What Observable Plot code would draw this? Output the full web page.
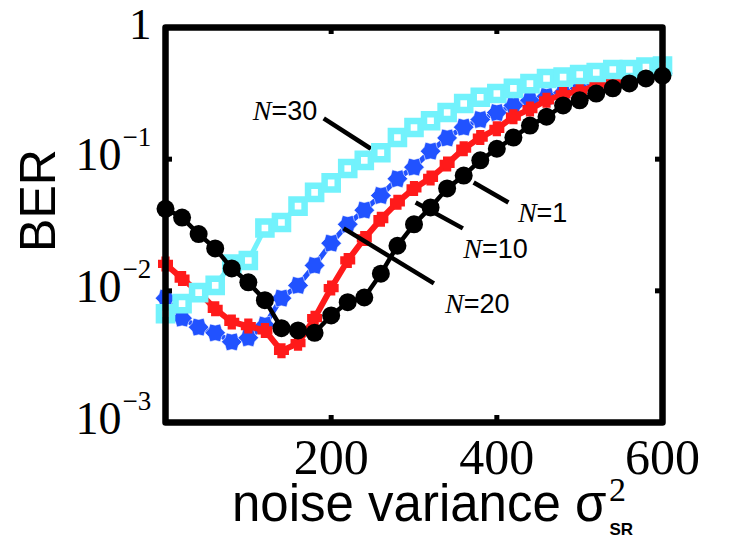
<!DOCTYPE html>
<html><head><meta charset="utf-8">
<script src="https://cdn.jsdelivr.net/npm/d3@7"></script>
<script src="https://cdn.jsdelivr.net/npm/@observablehq/plot@0.6"></script>
<style>html,body{margin:0;padding:0;background:#fff;} svg{display:block;}</style>
</head><body><div id="chart"></div>
<script>
// noise variance sigma^2_SR
const noiseVariance = [0,20,40,60,80,100,120,140,160,180,200,220,240,260,280,300,320,340,360,380,400,420,440,460,480,500,520,540,560,580,600];
// BER for each N
const berN1  = [0.042,0.036,0.027,0.021,0.0148,0.0116,0.0085,0.0052,0.0050,0.0048,0.0065,0.0082,0.0089,0.0135,0.022,0.032,0.043,0.060,0.075,0.098,0.12,0.146,0.18,0.21,0.256,0.28,0.315,0.345,0.376,0.41,0.43];
const berN10 = [0.016,0.0124,0.0098,0.0073,0.0058,0.0054,0.0050,0.0035,0.0040,0.0062,0.0105,0.017,0.025,0.035,0.047,0.060,0.072,0.092,0.12,0.146,0.17,0.21,0.24,0.28,0.31,0.33,0.36,0.385,0.40,0.42,0.44];
const berN20 = [0.0088,0.0062,0.0053,0.0048,0.0041,0.0044,0.0055,0.0088,0.011,0.0156,0.023,0.032,0.041,0.053,0.071,0.087,0.115,0.145,0.175,0.20,0.226,0.256,0.28,0.30,0.32,0.345,0.37,0.39,0.41,0.43,0.45];
const berN30 = [0.0067,0.0080,0.0097,0.011,0.016,0.017,0.030,0.033,0.044,0.056,0.066,0.085,0.098,0.112,0.146,0.174,0.196,0.226,0.265,0.295,0.315,0.345,0.375,0.41,0.42,0.44,0.455,0.48,0.48,0.50,0.51];

const xTicks = [200, 400, 600];
const yTicks = [1e-3, 1e-2, 1e-1, 1];
const yTickExp = ["−3", "−2", "−1", ""];

// annotation labels: anchor (start of "="), baseline BER, and leader line ends
const annLabels = ["30", "1", "10", "20"];
const annTextX = [128, 448, 382, 360];
const annTextY = [0.197, 0.0336, 0.0179, 0.00673];
const annLineX1 = [191, 372, 302, 215];
const annLineY1 = [0.204, 0.0665, 0.0469, 0.0298];
const annLineX2 = [248, 414, 359, 324];
const annLineY2 = [0.12, 0.0469, 0.0298, 0.01138];

const colors = {c1: "#000000", c10: "#ff1a1a", c20: "#2152ff", c30: "#72f2fc"};

const mk = (arr) => noiseVariance.map((x, i) => ({x, y: arr[i]}));
const d1 = mk(berN1), d10 = mk(berN10), d20 = mk(berN20), d30 = mk(berN30);
const ann = annLabels.map((t, i) => ({t, x: annTextX[i], y: annTextY[i], x1: annLineX1[i], y1: annLineY1[i], x2: annLineX2[i], y2: annLineY2[i]}));
const yt = yTicks.map((v, i) => ({v, e: yTickExp[i]}));

const hexagram = {draw(ctx, size) {
  const R = Math.sqrt(size / Math.PI) * 1.05, r = R * 0.74;
  for (let i = 0; i < 12; i++) {
    const a = i * Math.PI / 6;
    const rad = i % 2 ? r : R;
    const px = rad * Math.cos(a), py = rad * Math.sin(a);
    if (i) ctx.lineTo(px, py); else ctx.moveTo(px, py);
  }
  ctx.closePath();
}};
const fatPlus = {draw(ctx, size) {
  const R = Math.sqrt(size / Math.PI), w = R * 0.55;
  ctx.moveTo(-w, -R); ctx.lineTo(w, -R); ctx.lineTo(w, -w); ctx.lineTo(R, -w);
  ctx.lineTo(R, w); ctx.lineTo(w, w); ctx.lineTo(w, R); ctx.lineTo(-w, R);
  ctx.lineTo(-w, w); ctx.lineTo(-R, w); ctx.lineTo(-R, -w); ctx.lineTo(-w, -w);
  ctx.closePath();
}};

const W = 731, H = 539, mL = 165, mR = 69, mT = 27, mB = 117;
const innerH = H - mT - mB, innerW = W - mL - mR;
const serif = "Liberation Serif, Times New Roman, serif";
const sans = "Liberation Sans, Arial, Helvetica, sans-serif";

const chart = Plot.plot({
  width: W, height: H,
  marginLeft: mL, marginRight: mR, marginTop: mT, marginBottom: mB,
  style: {background: "white", fontFamily: sans},
  x: {domain: [0, 600], axis: null},
  y: {type: "log", domain: [1e-3, 1], axis: null},
  marks: [
    // leader lines under the curves
    Plot.link(ann.filter(d => d.t !== "20"), {x1: "x1", y1: "y1", x2: "x2", y2: "y2", stroke: "black", strokeWidth: 4.5}),
    Plot.line(d20, {x: "x", y: "y", stroke: colors.c20, strokeWidth: 5}),
    Plot.dot(d20, {x: "x", y: "y", symbol: hexagram, r: 9.8, fill: colors.c20, stroke: "white", strokeWidth: 0.6}),
    Plot.line(d10, {x: "x", y: "y", stroke: colors.c10, strokeWidth: 6}),
    Plot.dot(d10, {x: "x", y: "y", symbol: fatPlus, r: 7.5, fill: colors.c10}),
    Plot.line(d30, {x: "x", y: "y", stroke: colors.c30, strokeWidth: 5}),
    Plot.dot(d30, {x: "x", y: "y", symbol: "square", r: 7.4, stroke: colors.c30, strokeWidth: 6.5, fill: "white"}),
    Plot.line(d1, {x: "x", y: "y", stroke: colors.c1, strokeWidth: 4.5}),
    Plot.dot(d1, {x: "x", y: "y", r: 9, fill: colors.c1}),
    Plot.link(ann.filter(d => d.t === "20"), {x1: "x1", y1: "y1", x2: "x2", y2: "y2", stroke: "black", strokeWidth: 4.5}),
    // annotation texts
    Plot.text(ann, {x: "x", y: "y", text: () => "N", textAnchor: "end", lineAnchor: "bottom", fontFamily: serif, fontStyle: "italic", fontSize: 28, fill: "black"}),
    Plot.text(ann, {x: "x", y: "y", text: d => "=" + d.t, textAnchor: "start", lineAnchor: "bottom", fontFamily: sans, fontSize: 27, fill: "black"}),
    // frame and inward ticks
    Plot.frame({stroke: "black", strokeWidth: 6.5, strokeLinejoin: "round"}),
    Plot.tickX(xTicks.slice(0, 2), {x: d => d, insetTop: innerH - 7, stroke: "black", strokeWidth: 5}),
    Plot.tickX(xTicks.slice(0, 2), {x: d => d, insetBottom: innerH - 7, stroke: "black", strokeWidth: 5}),
    Plot.tickY(yTicks.slice(1, 3), {y: d => d, insetRight: innerW - 7, stroke: "black", strokeWidth: 5}),
    Plot.tickY(yTicks.slice(1, 3), {y: d => d, insetLeft: innerW - 7, stroke: "black", strokeWidth: 5}),
    // x tick labels
    Plot.text(xTicks, {x: d => d, frameAnchor: "bottom", dy: 51, lineAnchor: "bottom", text: d => String(d), fontFamily: serif, fontSize: 50, fill: "black"}),
    // y tick labels
    Plot.text(yt.filter(d => d.e === ""), {y: "v", frameAnchor: "left", dx: -14, dy: 11, textAnchor: "end", lineAnchor: "bottom", text: () => "1", fontFamily: serif, fontSize: 45, fill: "black"}),
    Plot.text(yt.filter(d => d.e !== ""), {y: "v", frameAnchor: "left", dx: -44, dy: 11, textAnchor: "end", lineAnchor: "bottom", text: () => "10", fontFamily: serif, fontSize: 46, fill: "black"}),
    Plot.text(yt.filter(d => d.e !== ""), {y: "v", frameAnchor: "left", dx: -43, dy: -13, textAnchor: "start", lineAnchor: "bottom", text: "e", fontFamily: serif, fontSize: 27, fill: "black"}),
    // axis titles
    Plot.text(["BER"], {frameAnchor: "left", dx: -111, dy: -24.5, rotate: -90, textAnchor: "middle", lineAnchor: "bottom", text: d => d, fontFamily: sans, fontSize: 50, fill: "black"}),
    Plot.text(["noise variance σ"], {frameAnchor: "bottom", dx: 192.5, dy: 98, textAnchor: "end", lineAnchor: "bottom", text: d => d, fontFamily: sans, fontSize: 51, fill: "black"}),
    Plot.text(["2"], {frameAnchor: "bottom", dx: 195, dy: 78, textAnchor: "start", lineAnchor: "bottom", text: d => d, fontFamily: serif, fontSize: 34, fill: "black"}),
    Plot.text(["SR"], {frameAnchor: "bottom", dx: 195.5, dy: 112, textAnchor: "start", lineAnchor: "bottom", text: d => d, fontFamily: sans, fontWeight: "bold", fontSize: 17, fill: "black"})
  ]
});
document.getElementById("chart").appendChild(chart);
</script>
</body></html>
